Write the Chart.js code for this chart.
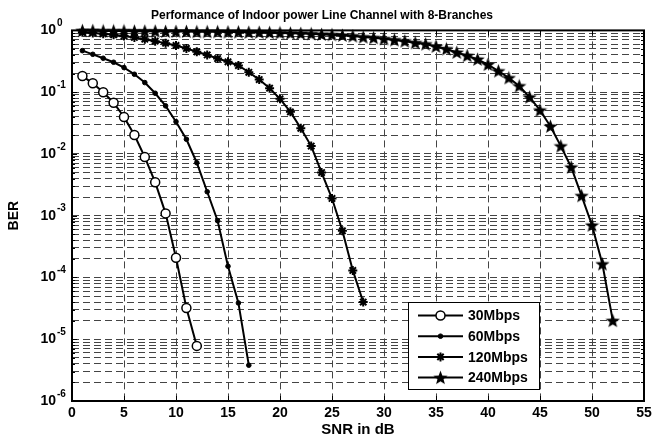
<!DOCTYPE html>
<html>
<head>
<meta charset="utf-8">
<script src="https://cdn.jsdelivr.net/npm/chart.js@4.4.1/dist/chart.umd.min.js"></script>
<style>
html, body { margin: 0; padding: 0; background: #fff; }
#wrap { width: 662px; height: 439px; }
</style>
</head>
<body>
<div id="wrap"><canvas id="berChart" width="662" height="439"></canvas></div>
<script>
// SNR (dB) and BER for each data rate
var snr30 = [1, 2, 3, 4, 5, 6, 7, 8, 9, 10, 11, 12];
var ber30 = [0.183, 0.139, 0.0996, 0.0676, 0.0396, 0.0202, 0.0089, 0.00347, 0.00109, 2.08e-4, 3.21e-5, 7.8e-6];

var snr60 = [1, 2, 3, 4, 5, 6, 7, 8, 9, 10, 11, 12, 13, 14, 15, 16, 17];
var ber60 = [0.47, 0.41, 0.354, 0.305, 0.25, 0.195, 0.143, 0.096, 0.060, 0.0333, 0.0173, 0.0072, 0.00244, 8.3e-4, 1.52e-4, 3.87e-5, 3.8e-6];

var snr120 = [1, 2, 3, 4, 5, 6, 7, 8, 9, 10, 11, 12, 13, 14, 15, 16, 17, 18, 19, 20, 21, 22, 23, 24, 25, 26, 27, 28];
var ber120 = [0.93, 0.91, 0.88, 0.85, 0.81, 0.77, 0.72, 0.67, 0.62, 0.57, 0.51, 0.45, 0.40, 0.35, 0.31, 0.27, 0.21, 0.16, 0.116, 0.078, 0.048, 0.026, 0.0134, 0.005, 0.0019, 5.7e-4, 1.3e-4, 4.0e-5];

var snr240 = [1, 2, 3, 4, 5, 6, 7, 8, 9, 10, 11, 12, 13, 14, 15, 16, 17, 18, 19, 20, 21, 22, 23, 24, 25, 26,
              27, 28, 29, 30, 31, 32, 33, 34, 35, 36, 37, 38, 39, 40, 41, 42, 43, 44, 45, 46, 47, 48, 49, 50, 51, 52];
var ber240 = [0.99, 0.99, 0.98, 0.98, 0.98, 0.97, 0.97, 0.97, 0.96, 0.96, 0.96, 0.95, 0.95, 0.95, 0.94, 0.94, 0.93, 0.93, 0.92, 0.91, 0.90, 0.89, 0.88, 0.86, 0.85, 0.83,
              0.81, 0.78, 0.76, 0.73, 0.70, 0.67, 0.63, 0.60, 0.55, 0.50, 0.44, 0.39, 0.34, 0.28, 0.22, 0.17, 0.126, 0.083, 0.051, 0.028, 0.0134, 0.0061, 0.0021, 7.0e-4, 1.65e-4, 2.0e-5];

var seriesNames = ['30Mbps', '60Mbps', '120Mbps', '240Mbps'];
var xTicks = [0, 5, 10, 15, 20, 25, 30, 35, 40, 45, 50, 55];
var yDecades = [-6, -5, -4, -3, -2, -1, 0];

var FONT = '"Liberation Sans", Arial, sans-serif';

function pairs(xs, ys) {
    return xs.map(function(x, i) { return { x: x, y: ys[i] }; });
}

// filled pentagram marker, like matlab 'p'
function makeStar(size) {
    var c = document.createElement('canvas');
    c.width = size; c.height = size;
    var g = c.getContext('2d');
    var cx = size / 2, cy = size / 2 + 0.5, ro = size / 2, ri = ro * 0.42;
    g.beginPath();
    for (var k = 0; k < 10; k++) {
        var r = k % 2 === 0 ? ro : ri;
        var a = -Math.PI / 2 + k * Math.PI / 5;
        g.lineTo(cx + r * Math.cos(a), cy + r * Math.sin(a));
    }
    g.closePath();
    g.fillStyle = '#000';
    g.fill();
    return c;
}
var starImg = makeStar(15);

function isDecade(v) {
    return Math.abs(Math.log10(v) - Math.round(Math.log10(v))) < 1e-6;
}

var boxPlugin = {
    id: 'matlabBox',
    beforeDatasetsDraw: function(chart) {
        var ctx = chart.ctx, a = chart.chartArea;
        var xs = chart.scales.x, ys = chart.scales.y;
        ctx.save();
        ctx.strokeStyle = '#000';
        ctx.lineWidth = 1;
        xTicks.forEach(function(v) {
            var px = Math.round(xs.getPixelForValue(v)) + 0.5;
            ctx.beginPath();
            ctx.moveTo(px, a.bottom); ctx.lineTo(px, a.bottom - 5);
            ctx.moveTo(px, a.top); ctx.lineTo(px, a.top + 5);
            ctx.stroke();
        });
        ys.ticks.forEach(function(t) {
            var py = Math.round(ys.getPixelForValue(t.value)) + 0.5;
            var len = t.label ? 5 : 3;
            ctx.beginPath();
            ctx.moveTo(a.left, py); ctx.lineTo(a.left + len, py);
            ctx.moveTo(a.right, py); ctx.lineTo(a.right - len, py);
            ctx.stroke();
        });
        ctx.lineWidth = 2;
        ctx.strokeRect(a.left, a.top, a.right - a.left, a.bottom - a.top);

        // exponents of the 10^n tick labels
        ctx.fillStyle = '#000';
        ctx.font = 'bold 10px ' + FONT;
        ctx.textAlign = 'left';
        ctx.textBaseline = 'middle';
        ys.ticks.forEach(function(t) {
            if (!isDecade(t.value)) return;
            var py = ys.getPixelForValue(t.value);
            ctx.fillText(String(Math.round(Math.log10(t.value))), ys.right - 15, py - 7);
        });
        ctx.restore();
    },
    afterDraw: function(chart) {
        // legend box at lower right, matlab style
        var ctx = chart.ctx, a = chart.chartArea;
        var bx = a.right - 236, by = a.bottom - 99, bw = 131, bh = 87;
        ctx.save();
        ctx.fillStyle = '#fff';
        ctx.fillRect(bx, by, bw, bh);
        ctx.strokeStyle = '#000';
        ctx.lineWidth = 1;
        ctx.strokeRect(bx + 0.5, by + 0.5, bw, bh);
        ctx.font = 'bold 14px ' + FONT;
        ctx.textBaseline = 'middle';
        chart.data.datasets.forEach(function(ds, i) {
            var y = by + 13.5 + i * 20.7;
            ctx.strokeStyle = '#000';
            ctx.lineWidth = 2;
            ctx.beginPath();
            ctx.moveTo(bx + 10, y); ctx.lineTo(bx + 55, y);
            ctx.stroke();
            ctx.fillStyle = ds.pointBackgroundColor;
            ctx.strokeStyle = '#000';
            ctx.lineWidth = ds.pointBorderWidth;
            Chart.helpers.drawPoint(ctx, {
                pointStyle: ds.pointStyle, radius: ds.pointRadius,
                borderWidth: ds.pointBorderWidth, rotation: 0
            }, bx + 32.5, y);
            ctx.fillStyle = '#000';
            ctx.fillText(ds.label, bx + 60, y + 1);
        });
        ctx.restore();
    }
};

var ctx = document.getElementById('berChart').getContext('2d');
var berChart = new Chart(ctx, {
    type: 'line',
    data: {
        datasets: [{
            label: seriesNames[0],
            data: pairs(snr30, ber30),
            borderColor: '#000', borderWidth: 2,
            pointStyle: 'circle', pointRadius: 4.5,
            pointBackgroundColor: '#fff', pointBorderColor: '#000', pointBorderWidth: 1.5
        }, {
            label: seriesNames[1],
            data: pairs(snr60, ber60),
            borderColor: '#000', borderWidth: 2,
            pointStyle: 'circle', pointRadius: 2.3,
            pointBackgroundColor: '#000', pointBorderColor: '#000', pointBorderWidth: 1
        }, {
            label: seriesNames[2],
            data: pairs(snr120, ber120),
            borderColor: '#000', borderWidth: 2,
            pointStyle: 'star', pointRadius: 4.5,
            pointBackgroundColor: '#000', pointBorderColor: '#000', pointBorderWidth: 2
        }, {
            label: seriesNames[3],
            data: pairs(snr240, ber240),
            borderColor: '#000', borderWidth: 2,
            pointStyle: starImg, pointRadius: 7,
            pointBackgroundColor: '#000', pointBorderColor: '#000', pointBorderWidth: 1
        }]
    },
    options: {
        responsive: false,
        animation: false,
        devicePixelRatio: 1,
        clip: false,
        layout: { padding: { left: 0, right: 18, top: 0, bottom: 0 } },
        plugins: {
            legend: { display: false },
            tooltip: { enabled: false },
            title: {
                display: true,
                text: 'Performance of Indoor power Line Channel with 8-Branches',
                color: '#000',
                font: { family: FONT, size: 12, weight: 'bold' },
                padding: { top: 8, bottom: 8 }
            }
        },
        scales: {
            x: {
                type: 'linear',
                min: 0, max: 55,
                afterBuildTicks: function(scale) {
                    scale.ticks = xTicks.map(function(v) { return { value: v }; });
                },
                afterFit: function(scale) { scale.height = 38; },
                ticks: {
                    color: '#000', padding: 4, maxRotation: 0, autoSkip: false,
                    font: { family: FONT, size: 14, weight: 'bold' }
                },
                grid: { color: '#444', lineWidth: 1, drawTicks: false },
                border: { display: false, dash: [7, 4] },
                title: {
                    display: true, text: 'SNR in dB', color: '#000',
                    font: { family: FONT, size: 15, weight: 'bold' },
                    padding: { top: 0, bottom: 0 }
                }
            },
            y: {
                type: 'logarithmic',
                min: 1e-6, max: 1,
                afterBuildTicks: function(scale) {
                    var t = [];
                    yDecades.forEach(function(e) {
                        for (var m = 1; m <= 9; m++) {
                            if (e === 0 && m > 1) break;
                            t.push({ value: m * Math.pow(10, e) });
                        }
                    });
                    scale.ticks = t;
                },
                afterFit: function(scale) { scale.width = 72; },
                ticks: {
                    color: '#000', padding: 16, autoSkip: false,
                    font: { family: FONT, size: 14, weight: 'bold' },
                    callback: function(value) {
                        return isDecade(value) ? '10' : '';
                    }
                },
                grid: { color: '#444', lineWidth: 1, drawTicks: false },
                border: { display: false, dash: [7, 4] },
                title: {
                    display: true, text: 'BER', color: '#000',
                    font: { family: FONT, size: 14, weight: 'bold' },
                    padding: { top: 6, bottom: 0 }
                }
            }
        }
    },
    plugins: [boxPlugin]
});
</script>
</body>
</html>
